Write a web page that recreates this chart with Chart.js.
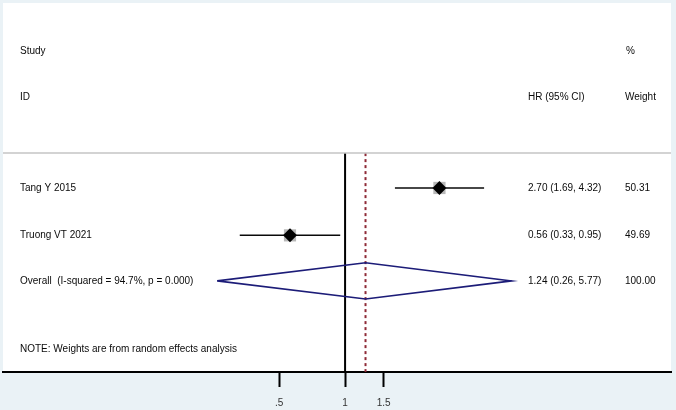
<!DOCTYPE html>
<html>
<head>
<meta charset="utf-8">
<script src="https://cdn.jsdelivr.net/npm/chart.js@4"></script>
<style>
  html, body { margin: 0; padding: 0; background: #eaf2f6; }
  canvas { display: block; }
</style>
</head>
<body>
<canvas id="chart" width="676" height="410"></canvas>
<script>
// study data
const studies = ['Tang Y 2015', 'Truong VT 2021']
const hr = [2.70, 0.56]
const lower = [1.69, 0.33]
const upper = [4.32, 0.95]
const weights = [50.31, 49.69]
const hrText = ['2.70 (1.69, 4.32)', '0.56 (0.33, 0.95)']
const weightText = ['50.31', '49.69']

const overallLabel = 'Overall  (I-squared = 94.7%, p = 0.000)'
const overallHR = 1.24
const overallLower = 0.26
const overallUpper = 5.77
const overallText = '1.24 (0.26, 5.77)'
const overallWeight = '100.00'

const tickValues = [0.5, 1, 1.5]
const tickLabels = ['.5', '1', '1.5']

// row layout (y units, reversed)
const headRows = [1.04, 2.02]
const studyRows = [3.98, 5]
const overallRow = 5.98
const noteRow = 7.46
const sepRow = 3.23
const yMax = 7.94

const ink = '#0a0a0a'

const ciLines = studies.map((s, i) => ({
    type: 'scatter',
    showLine: true,
    data: [{ x: lower[i], y: studyRows[i] }, { x: upper[i], y: studyRows[i] }],
    borderColor: ink,
    borderWidth: 1.5,
    pointRadius: 0,
    order: 3
}))

const boxes = {
    type: 'scatter',
    data: hr.map((v, i) => ({ x: v, y: studyRows[i] })),
    pointStyle: 'rect',
    pointRadius: weights.map(w => Math.sqrt(w) * 1.22),
    backgroundColor: '#b8b8b8',
    borderWidth: 0,
    order: 2
}

const points = {
    type: 'scatter',
    data: hr.map((v, i) => ({ x: v, y: studyRows[i] })),
    pointStyle: 'rectRot',
    pointRadius: 7,
    backgroundColor: '#000',
    borderWidth: 0,
    order: 1
}

const diamond = {
    type: 'scatter',
    showLine: true,
    data: [
        { x: overallLower, y: overallRow },
        { x: overallHR, y: overallRow - 0.39 },
        { x: overallUpper, y: overallRow },
        { x: overallHR, y: overallRow + 0.39 },
        { x: overallLower, y: overallRow }
    ],
    borderColor: '#1c1c78',
    borderWidth: 1.6,
    pointRadius: 0,
    tension: 0,
    order: 4
}

const nullLine = {
    type: 'scatter',
    showLine: true,
    data: [{ x: 1, y: sepRow }, { x: 1, y: yMax }],
    borderColor: '#000',
    borderWidth: 2,
    pointRadius: 0,
    order: 6
}

const overallLine = {
    type: 'scatter',
    showLine: true,
    data: [{ x: overallHR, y: sepRow }, { x: overallHR, y: yMax }],
    borderColor: '#8e2a36',
    borderWidth: 2,
    borderDash: [3, 3],
    pointRadius: 0,
    order: 5
}

const panel = {
    id: 'panel',
    beforeDraw(chart) {
        const { ctx, chartArea: a } = chart
        ctx.save()
        ctx.fillStyle = '#eaf2f6'
        ctx.fillRect(0, 0, chart.width, chart.height)
        ctx.fillStyle = '#fff'
        ctx.fillRect(a.left, a.top, a.right - a.left, a.bottom - a.top)
        ctx.restore()
    },
    afterDraw(chart) {
        const { ctx, chartArea: a } = chart
        const y = chart.scales.y
        ctx.save()
        ctx.strokeStyle = '#c4c4c4'
        ctx.lineWidth = 1.5
        ctx.beginPath()
        ctx.moveTo(a.left, y.getPixelForValue(sepRow))
        ctx.lineTo(a.right, y.getPixelForValue(sepRow))
        ctx.stroke()

        ctx.fillStyle = ink
        ctx.font = '10px "Liberation Sans", Arial, sans-serif'
        ctx.textBaseline = 'middle'
        const put = (t, x, row) => ctx.fillText(t, x, y.getPixelForValue(row))
        put('Study', 20, headRows[0])
        put('ID', 20, headRows[1])
        put('HR (95% CI)', 528, headRows[1])
        put('%', 626, headRows[0])
        put('Weight', 625, headRows[1])
        studies.forEach((s, i) => {
            put(s, 20, studyRows[i])
            put(hrText[i], 528, studyRows[i])
            put(weightText[i], 625, studyRows[i])
        })
        put(overallLabel, 20, overallRow)
        put(overallText, 528, overallRow)
        put(overallWeight, 625, overallRow)
        put('NOTE: Weights are from random effects analysis', 20, noteRow)
        ctx.restore()
    }
}

Chart.defaults.font.family = '"Liberation Sans", Arial, sans-serif'

new Chart(document.getElementById('chart'), {
    type: 'scatter',
    data: {
        datasets: [...ciLines, boxes, points, diamond, nullLine, overallLine]
    },
    options: {
        responsive: false,
        animation: false,
        devicePixelRatio: 1,
        layout: { autoPadding: false, padding: { left: 3, right: 5, top: 3, bottom: 2 } },
        plugins: { legend: { display: false }, tooltip: { enabled: false } },
        scales: {
            x: {
                type: 'logarithmic',
                min: 0.0273,
                max: 30.9,
                afterBuildTicks: scale => {
                    scale.ticks = tickValues.map(v => ({ value: v }))
                },
                afterFit: scale => {
                    scale.height = 36
                    scale.paddingLeft = 0
                    scale.paddingRight = 0
                },
                ticks: {
                    autoSkip: false,
                    maxRotation: 0,
                    padding: 10,
                    color: '#333',
                    font: { size: 10 },
                    callback: (v, i) => tickLabels[i]
                },
                grid: {
                    drawOnChartArea: false,
                    drawTicks: true,
                    tickLength: 15,
                    tickWidth: 2,
                    tickColor: '#000'
                },
                border: { display: true, color: '#000', width: 2 }
            },
            y: {
                type: 'linear',
                reverse: true,
                min: 0,
                max: yMax,
                display: false
            }
        }
    },
    plugins: [panel]
})
</script>
</body>
</html>
